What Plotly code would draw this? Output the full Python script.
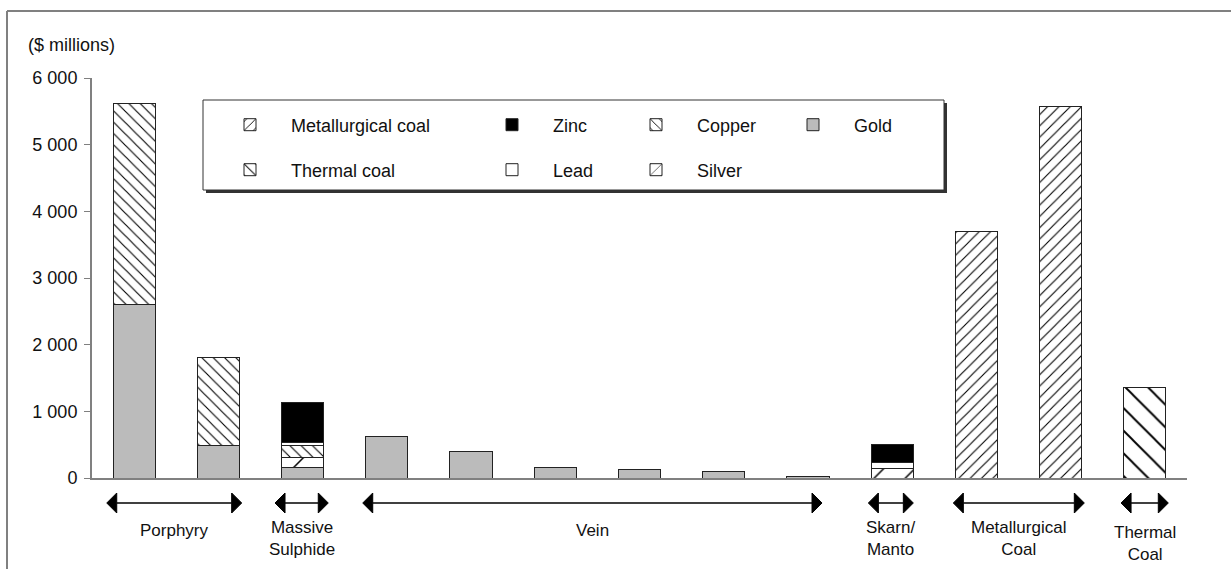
import plotly.graph_objects as go

# ---------------- data ----------------
bar_index = list(range(13))
gold = [2600, 490, 165, 625, 395, 165, 125, 95, 20, None, None, None, None]
silver = [None, None, 140, None, None, None, None, None, None, 145, None, None, None]
copper = [3025, 1325, 185, None, None, None, None, None, None, None, None, None, None]
lead = [None, None, 40, None, None, None, None, None, None, 85, None, None, None]
zinc = [None, None, 605, None, None, None, None, None, None, 275, None, None, None]
met_coal = [None] * 10 + [3705, 5580, None]
thermal_coal = [None] * 12 + [1355]

# deposit groups: label, first bar, last bar
group_labels = ["Porphyry", "Massive<br>Sulphide", "Vein", "Skarn/<br>Manto", "Metallurgical<br>Coal", "Thermal<br>Coal"]
group_first = [0, 2, 3, 9, 10, 12]
group_last = [1, 2, 8, 9, 11, 12]
arrow_left_pad = [0.325, 0.327, 0.286, 0.283, 0.274, 0.283]
arrow_right_pad = [0.277, 0.305, 0.167, 0.251, 0.281, 0.278]
label_y = [-0.13, -0.15, -0.13, -0.15, -0.15, -0.163]

y_ticks = [0, 1000, 2000, 3000, 4000, 5000, 6000]

FONT = "Liberation Sans, Arial, sans-serif"
LINE = "#222222"
TXT = "#111111"

series = [
    # name, values, color, pattern shape, pattern size, solidity, legend id
    ("Gold", gold, "#bbbbbb", "", 8, 0.2, "legend4"),
    ("Silver", silver, "white", "/", 22, 0.07, "legend7"),
    ("Copper", copper, "white", "\\", 8, 0.14, "legend3"),
    ("Lead", lead, "white", "", 8, 0.2, "legend6"),
    ("Zinc", zinc, "black", "", 8, 0.2, "legend2"),
    ("Metallurgical coal", met_coal, "white", "/", 8, 0.14, "legend"),
    ("Thermal coal", thermal_coal, "white", "\\", 16, 0.12, "legend5"),
]

fig = go.Figure()
for name, vals, col, shape, size, sol, lg in series:
    marker = dict(color=col, line=dict(color=LINE, width=1))
    if shape:
        marker["pattern"] = dict(shape=shape, size=size, solidity=sol, fgcolor="black", bgcolor=col,
                                 fillmode="replace")
    fig.add_trace(go.Bar(x=bar_index, y=vals, name=name, marker=marker, legend=lg, hoverinfo="skip"))

PW = 1095.0
PH = 400.0


def px_x(px):
    return (px - 92) / PW


def px_y(py):
    return (478 - py) / PH


# legend positions (item start, row centre) in pixels
leg_pos = {
    "legend": (209, 125), "legend2": (471, 125), "legend3": (615, 125), "legend4": (772, 125),
    "legend5": (209, 170), "legend6": (471, 170), "legend7": (615, 170),
}
legends = {}
for key, (lx, ly) in leg_pos.items():
    legends[key] = dict(
        x=px_x(lx), y=px_y(ly), xanchor="left", yanchor="middle",
        bgcolor="rgba(0,0,0,0)", borderwidth=0, itemwidth=72,
        font=dict(family=FONT, size=18, color=TXT),
        itemclick=False, itemdoubleclick=False,
    )

shapes = []
# figure frame (top and left)
shapes.append(dict(type="line", xref="paper", yref="paper", x0=px_x(7), x1=px_x(1240), y0=px_y(11), y1=px_y(11),
                   line=dict(color="#808080", width=2)))
shapes.append(dict(type="line", xref="paper", yref="paper", x0=px_x(7), x1=px_x(7), y0=px_y(11), y1=px_y(580),
                   line=dict(color="#808080", width=2)))
# legend box shadow + box
shapes.append(dict(type="rect", xref="paper", yref="paper", x0=px_x(206), x1=px_x(947), y0=px_y(103), y1=px_y(193),
                   fillcolor="#333333", line=dict(width=0), layer="below"))
shapes.append(dict(type="rect", xref="paper", yref="paper", x0=px_x(203), x1=px_x(944), y0=px_y(100), y1=px_y(190),
                   fillcolor="white", line=dict(color="#333333", width=1), layer="below"))

annotations = [dict(text="($ millions)", xref="paper", yref="paper", x=px_x(26), y=px_y(45), xanchor="left",
                    yanchor="middle", showarrow=False, font=dict(family=FONT, size=18, color=TXT))]

arrow_y = px_y(503)
head_w = 10 / (PW / 13)
head_h = 10 / PH
for lab, f, l, lp, rp, ly in zip(group_labels, group_first, group_last, arrow_left_pad, arrow_right_pad, label_y):
    x0 = f - lp
    x1 = l + rp
    shapes.append(dict(type="line", xref="x", yref="paper", x0=x0 + head_w, x1=x1 - head_w, y0=arrow_y, y1=arrow_y,
                       line=dict(color="black", width=1.5)))
    shapes.append(dict(type="path", xref="x", yref="paper",
                       path=f"M {x0} {arrow_y} L {x0 + head_w} {arrow_y + head_h} L {x0 + head_w} {arrow_y - head_h} Z",
                       fillcolor="black", line=dict(color="black", width=1)))
    shapes.append(dict(type="path", xref="x", yref="paper",
                       path=f"M {x1} {arrow_y} L {x1 - head_w} {arrow_y + head_h} L {x1 - head_w} {arrow_y - head_h} Z",
                       fillcolor="black", line=dict(color="black", width=1)))
    annotations.append(dict(text=lab, xref="x", yref="paper", x=(x0 + x1) / 2, y=ly, xanchor="center",
                            yanchor="middle", showarrow=False, font=dict(family=FONT, size=17, color=TXT)))

fig.update_layout(
    width=1231, height=569,
    margin=dict(l=92, r=44, t=78, b=91),
    paper_bgcolor="white", plot_bgcolor="white",
    barmode="stack", bargap=0.5,
    separators=". ",
    font=dict(family=FONT, size=18, color=TXT),
    shapes=shapes, annotations=annotations,
    showlegend=True,
    **legends,
)
fig.update_xaxes(range=[-0.5, 12.5], showticklabels=False, ticks="", showgrid=False, zeroline=False,
                 showline=True, linecolor="#808080", linewidth=2)
fig.update_yaxes(range=[0, 6000], tickvals=y_ticks, tickformat=",d", ticks="outside", ticklen=6,
                 tickcolor="#808080", tickwidth=1, showgrid=False, zeroline=False, showline=True,
                 linecolor="#808080", linewidth=2, ticklabelstandoff=3,
                 tickfont=dict(family=FONT, size=18, color=TXT))

fig.write_html("out.html", config={"displayModeBar": False},
               post_script="document.body.style.margin='0';")
